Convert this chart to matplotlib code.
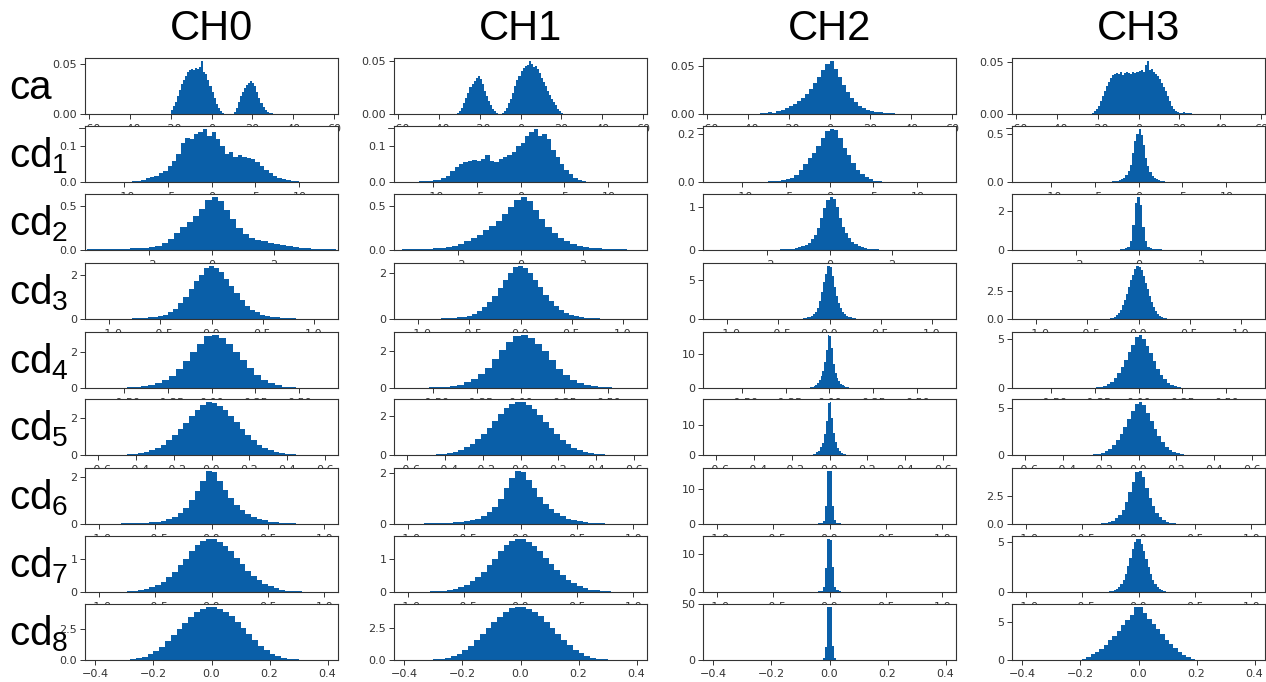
import numpy as np
import matplotlib
matplotlib.use("Agg")
import matplotlib.pyplot as plt

# ---------------- data (bin densities) ----------------
channels = ["CH0", "CH1", "CH2", "CH3"]
levels = ["ca", "cd1", "cd2", "cd3", "cd4", "cd5", "cd6", "cd7", "cd8"]
row_labels = ["ca", r"$\mathrm{cd}_{1}$", r"$\mathrm{cd}_{2}$", r"$\mathrm{cd}_{3}$",
              r"$\mathrm{cd}_{4}$", r"$\mathrm{cd}_{5}$", r"$\mathrm{cd}_{6}$",
              r"$\mathrm{cd}_{7}$", r"$\mathrm{cd}_{8}$"]

# x limits and x ticks per level (shared by the four channels)
row_xlim = [62, 14.4, 4.05, 1.24, 0.72, 0.67, 1.12, 1.12, 0.436]
row_xticks = [
    [-60, -40, -20, 0, 20, 40, 60],
    [-10, -5, 0, 5, 10],
    [-2, 0, 2],
    [-1.0, -0.5, 0.0, 0.5, 1.0],
    [-0.50, -0.25, 0.00, 0.25, 0.50],
    [-0.6, -0.4, -0.2, 0.0, 0.2, 0.4, 0.6],
    [-1.0, -0.5, 0.0, 0.5, 1.0],
    [-1.0, -0.5, 0.0, 0.5, 1.0],
    [-0.4, -0.2, 0.0, 0.2, 0.4],
]
yticks = [
    [[0, 0.05], [0, 0.05], [0, 0.05], [0, 0.05]],
    [[0, 0.1], [0, 0.1], [0, 0.2], [0, 0.5]],
    [[0, 0.5], [0, 0.5], [0, 1], [0, 2]],
    [[0, 2], [0, 2], [0, 5], [0, 2.5]],
    [[0, 2], [0, 2], [0, 10], [0, 5]],
    [[0, 2], [0, 2], [0, 10], [0, 5]],
    [[0, 2], [0, 2], [0, 10], [0, 2.5]],
    [[0, 1], [0, 1], [0, 10], [0, 5]],
    [[0, 2.5], [0, 2.5], [0, 50], [0, 5]],
]

# ---- ca ----
ca_ch0_rng = (-20, 31)
ca_ch0 = [0.004, 0.008, 0.012, 0.018, 0.024, 0.030, 0.034, 0.038, 0.042, 0.044,
          0.045, 0.044, 0.046, 0.045, 0.047, 0.053, 0.042, 0.040, 0.034, 0.028,
          0.022, 0.016, 0.010, 0.006, 0.003, 0.001, 0.0, 0.0, 0.0, 0.0,
          0.0, 0.002, 0.006, 0.012, 0.018, 0.022, 0.026, 0.029, 0.031, 0.033,
          0.031, 0.028, 0.022, 0.016, 0.011, 0.007, 0.004, 0.002, 0.001, 0.0005, 0.0]
ca_ch1_rng = (-31, 21)
ca_ch1 = [0.001, 0.003, 0.006, 0.010, 0.015, 0.020, 0.025, 0.028, 0.031, 0.034,
          0.036, 0.033, 0.028, 0.022, 0.017, 0.012, 0.008, 0.005, 0.003, 0.001,
          0.0, 0.0, 0.001, 0.003, 0.006, 0.010, 0.014, 0.020, 0.026, 0.032,
          0.036, 0.040, 0.043, 0.045, 0.046, 0.050, 0.047, 0.044, 0.045, 0.042,
          0.038, 0.034, 0.030, 0.026, 0.022, 0.018, 0.014, 0.011, 0.008, 0.005,
          0.003, 0.001]
ca_ch2_rng = (-34, 36)
ca_ch2 = [0.001, 0.001, 0.002, 0.001, 0.003, 0.004, 0.006, 0.008, 0.010, 0.013,
          0.017, 0.021, 0.026, 0.032, 0.038, 0.045, 0.052, 0.055, 0.046, 0.038,
          0.030, 0.023, 0.017, 0.012, 0.008, 0.006, 0.004, 0.003, 0.002, 0.002,
          0.001, 0.001, 0.001, 0.0005, 0.0005]
ca_ch3_rng = (-23, 27)
ca_ch3 = [0.001, 0.003, 0.005, 0.008, 0.012, 0.017, 0.022, 0.027, 0.031, 0.034,
          0.037, 0.038, 0.039, 0.038, 0.040, 0.037, 0.039, 0.040, 0.039, 0.038,
          0.040, 0.039, 0.040, 0.041, 0.042, 0.040, 0.047, 0.051, 0.042, 0.043,
          0.040, 0.038, 0.036, 0.033, 0.030, 0.026, 0.022, 0.017, 0.012, 0.008,
          0.005, 0.003, 0.002, 0.001, 0.001, 0.002, 0.001, 0.001, 0.0005, 0.0]

# ---- cd1 ----
cd1_ch0_rng = (-9, 11)
cd1_ch0 = [0.002, 0.004, 0.006, 0.01, 0.014, 0.018, 0.024, 0.032, 0.045, 0.06,
           0.08, 0.11, 0.125, 0.12, 0.135, 0.14, 0.15, 0.13, 0.14, 0.12,
           0.10, 0.08, 0.085, 0.07, 0.075, 0.07, 0.068, 0.065, 0.055, 0.045,
           0.035, 0.025, 0.018, 0.012, 0.008, 0.005, 0.003, 0.002, 0.001, 0.001]
cd1_ch1_rng = (-12, 8)
cd1_ch1 = [0.001, 0.002, 0.003, 0.004, 0.005, 0.007, 0.01, 0.018, 0.03, 0.042,
           0.05, 0.055, 0.06, 0.062, 0.06, 0.065, 0.075, 0.06, 0.055, 0.065,
           0.07, 0.075, 0.085, 0.1, 0.11, 0.13, 0.14, 0.15, 0.13, 0.135,
           0.12, 0.09, 0.07, 0.05, 0.035, 0.022, 0.012, 0.006, 0.003, 0.001]
cd1_ch2_rng = (-8, 6)
cd1_ch2 = [0.002, 0.002, 0.003, 0.004, 0.005, 0.008, 0.012, 0.018, 0.03, 0.05,
           0.075, 0.1, 0.12, 0.15, 0.18, 0.21, 0.22, 0.215, 0.18, 0.14,
           0.11, 0.08, 0.05, 0.032, 0.02, 0.012, 0.006, 0.003]
cd1_ch3_rng = (-3.5, 3.5)
cd1_ch3 = [0.003, 0.005, 0.007, 0.01, 0.014, 0.02, 0.03, 0.045, 0.07, 0.11,
           0.18, 0.3, 0.42, 0.5, 0.55, 0.48, 0.38, 0.25, 0.16, 0.1,
           0.065, 0.04, 0.028, 0.018, 0.012, 0.008, 0.005, 0.003]

# ---- cd2 ----
cd2_ch0_rng = (-4, 4)
cd2_ch0 = [0.01, 0.01, 0.012, 0.012, 0.014, 0.015, 0.016, 0.018, 0.02, 0.025,
           0.03, 0.05, 0.08, 0.13, 0.2, 0.26, 0.32, 0.39, 0.47, 0.57,
           0.61, 0.56, 0.46, 0.35, 0.25, 0.18, 0.14, 0.12, 0.1, 0.08,
           0.065, 0.055, 0.045, 0.035, 0.028, 0.022, 0.017, 0.013, 0.01, 0.008]
cd2_ch1_rng = (-4, 4)
cd2_ch1 = [0.005, 0.006, 0.008, 0.01, 0.012, 0.015, 0.02, 0.025, 0.035, 0.05,
           0.07, 0.1, 0.13, 0.17, 0.22, 0.27, 0.33, 0.4, 0.48, 0.56,
           0.6, 0.55, 0.45, 0.35, 0.26, 0.19, 0.14, 0.1, 0.07, 0.05,
           0.035, 0.025, 0.018, 0.013, 0.01, 0.008, 0.006, 0.005, 0.004, 0.003]
cd2_ch2_rng = (-2, 2)
cd2_ch2 = [0.005, 0.005, 0.007, 0.01, 0.012, 0.015, 0.02, 0.028, 0.035, 0.045,
           0.06, 0.085, 0.12, 0.17, 0.25, 0.36, 0.52, 0.75, 0.98, 1.18,
           1.25, 1.2, 1.0, 0.76, 0.55, 0.4, 0.28, 0.19, 0.13, 0.09,
           0.065, 0.045, 0.032, 0.024, 0.018, 0.013, 0.01, 0.007, 0.005, 0.004]
cd2_ch3_rng = (-1.0, 1.4)
cd2_ch3 = [0.01, 0.012, 0.015, 0.02, 0.025, 0.035, 0.05, 0.08, 0.15, 0.45,
           1.3, 2.4, 2.75, 2.3, 1.2, 0.45, 0.18, 0.09, 0.06, 0.045,
           0.035, 0.03, 0.025, 0.02, 0.016, 0.013, 0.01, 0.008, 0.006, 0.005]

# ---- cd3 ----
cd3_ch0_rng = (-0.925, 0.975)
cd3_ch0 = [0.01, 0.015, 0.02, 0.03, 0.04, 0.05, 0.07, 0.1, 0.14, 0.2,
           0.3, 0.45, 0.7, 1.0, 1.35, 1.7, 2.0, 2.3, 2.4, 2.3,
           2.1, 1.8, 1.5, 1.15, 0.85, 0.6, 0.42, 0.3, 0.2, 0.14,
           0.1, 0.07, 0.05, 0.035, 0.025, 0.018, 0.012, 0.008]
cd3_ch1_rng = (-0.925, 0.975)
cd3_ch1 = [0.01, 0.012, 0.018, 0.025, 0.035, 0.05, 0.07, 0.1, 0.15, 0.22,
           0.33, 0.5, 0.72, 1.0, 1.35, 1.7, 2.0, 2.25, 2.3, 2.2,
           2.0, 1.7, 1.38, 1.05, 0.78, 0.55, 0.38, 0.26, 0.18, 0.12,
           0.08, 0.055, 0.04, 0.03, 0.02, 0.015, 0.01, 0.007]
cd3_ch2_rng = (-0.3, 0.3)
cd3_ch2 = [0.03, 0.05, 0.08, 0.12, 0.2, 0.3, 0.45, 0.65, 0.95, 1.4,
           2.3, 3.5, 4.8, 5.8, 6.9, 6.7, 5.5, 4.2, 3.0, 2.1,
           1.4, 0.95, 0.65, 0.45, 0.3, 0.2, 0.12, 0.08, 0.05, 0.03]
cd3_ch3_rng = (-0.32, 0.32)
cd3_ch3 = [0.02, 0.04, 0.07, 0.12, 0.2, 0.32, 0.5, 0.8, 1.2, 1.7,
           2.2, 2.8, 3.4, 3.9, 4.4, 4.7, 4.6, 4.3, 3.8, 3.2,
           2.6, 2.0, 1.5, 1.05, 0.7, 0.45, 0.28, 0.17, 0.1, 0.06,
           0.035, 0.02]

# ---- cd4 ----
cd4_ch0_rng = (-0.6, 0.6)
cd4_ch0 = [0.01, 0.015, 0.025, 0.04, 0.06, 0.1, 0.16, 0.27, 0.45, 0.7,
           1.05, 1.5, 2.0, 2.5, 2.95, 3.0, 2.8, 2.5, 2.05, 1.55,
           1.1, 0.72, 0.45, 0.27, 0.15, 0.08, 0.045, 0.025, 0.015, 0.008]
cd4_ch1_rng = (-0.6, 0.6)
cd4_ch1 = [0.01, 0.018, 0.03, 0.045, 0.07, 0.11, 0.18, 0.3, 0.48, 0.75,
           1.1, 1.55, 2.05, 2.5, 2.85, 2.9, 2.7, 2.4, 2.0, 1.5,
           1.05, 0.7, 0.44, 0.26, 0.15, 0.085, 0.05, 0.028, 0.016, 0.01]
cd4_ch2_rng = (-0.12, 0.12)
cd4_ch2 = [0.1, 0.2, 0.35, 0.6, 1.0, 1.5, 2.2, 3.5, 5.0, 7.5,
           11.0, 15.5, 15.0, 11.5, 7.0, 4.5, 3.0, 2.0, 1.3, 0.85,
           0.5, 0.3, 0.18, 0.1]
cd4_ch3_rng = (-0.28, 0.28)
cd4_ch3 = [0.02, 0.04, 0.08, 0.14, 0.24, 0.4, 0.65, 1.0, 1.5, 2.1,
           2.8, 3.6, 4.4, 5.2, 5.4, 5.0, 4.3, 3.5, 2.7, 1.95,
           1.35, 0.9, 0.55, 0.33, 0.19, 0.1, 0.05, 0.025]

# ---- cd5 ----
cd5_ch0_rng = (-0.51, 0.51)
cd5_ch0 = [0.01, 0.02, 0.035, 0.06, 0.1, 0.16, 0.25, 0.38, 0.55, 0.78,
           1.05, 1.38, 1.72, 2.1, 2.42, 2.68, 2.85, 2.8, 2.62, 2.38,
           2.08, 1.75, 1.4, 1.08, 0.8, 0.56, 0.38, 0.25, 0.16, 0.1,
           0.06, 0.035, 0.02, 0.01]
cd5_ch1_rng = (-0.51, 0.51)
cd5_ch1 = [0.012, 0.022, 0.04, 0.065, 0.11, 0.17, 0.26, 0.4, 0.57, 0.8,
           1.08, 1.4, 1.75, 2.1, 2.4, 2.62, 2.75, 2.72, 2.58, 2.35,
           2.05, 1.72, 1.38, 1.06, 0.78, 0.55, 0.37, 0.24, 0.15, 0.095,
           0.058, 0.034, 0.02, 0.012]
cd5_ch2_rng = (-0.1, 0.1)
cd5_ch2 = [0.1, 0.25, 0.5, 0.9, 1.5, 2.6, 4.2, 7.0, 11.5, 17.5,
           18.0, 12.5, 7.5, 4.3, 2.5, 1.4, 0.8, 0.45, 0.22, 0.1]
cd5_ch3_rng = (-0.28, 0.28)
cd5_ch3 = [0.02, 0.04, 0.08, 0.15, 0.26, 0.42, 0.68, 1.05, 1.55, 2.2,
           2.95, 3.8, 4.7, 5.5, 5.7, 5.3, 4.5, 3.6, 2.75, 2.0,
           1.35, 0.88, 0.55, 0.33, 0.19, 0.1, 0.05, 0.025]

# ---- cd6 ----
cd6_ch0_rng = (-1.0, 0.95)
cd6_ch0 = [0.01, 0.012, 0.015, 0.018, 0.022, 0.027, 0.033, 0.042, 0.055, 0.075,
           0.1, 0.14, 0.2, 0.3, 0.45, 0.68, 1.0, 1.4, 1.8, 2.25,
           2.2, 1.8, 1.45, 1.1, 0.82, 0.6, 0.43, 0.3, 0.21, 0.15,
           0.1, 0.07, 0.05, 0.036, 0.026, 0.019, 0.014, 0.01, 0.008]
cd6_ch1_rng = (-1.0, 0.95)
cd6_ch1 = [0.012, 0.015, 0.018, 0.022, 0.027, 0.033, 0.04, 0.05, 0.065, 0.085,
           0.11, 0.15, 0.21, 0.31, 0.46, 0.68, 1.0, 1.4, 1.8, 2.1,
           2.05, 1.75, 1.4, 1.08, 0.8, 0.58, 0.42, 0.3, 0.21, 0.15,
           0.1, 0.07, 0.05, 0.036, 0.026, 0.019, 0.014, 0.01, 0.008]
cd6_ch2_rng = (-0.12, 0.12)
cd6_ch2 = [0.08, 0.15, 0.35, 0.9, 5.0, 15.0, 15.2, 5.2, 1.0, 0.4, 0.18, 0.08]
cd6_ch3_rng = (-0.39, 0.39)
cd6_ch3 = [0.02, 0.04, 0.07, 0.11, 0.18, 0.3, 0.5, 0.8, 1.25, 1.9,
           2.8, 3.7, 4.6, 4.7, 4.1, 3.2, 2.3, 1.55, 1.0, 0.62,
           0.38, 0.22, 0.13, 0.07, 0.04, 0.02]

# ---- cd7 ----
cd7_ch0_rng = (-0.85, 0.95)
cd7_ch0 = [0.01, 0.015, 0.025, 0.04, 0.06, 0.1, 0.15, 0.22, 0.32, 0.45,
           0.62, 0.82, 1.03, 1.25, 1.44, 1.57, 1.64, 1.63, 1.55, 1.42,
           1.25, 1.05, 0.85, 0.66, 0.5, 0.36, 0.25, 0.17, 0.11, 0.07,
           0.045, 0.028, 0.018, 0.011, 0.007, 0.004]
cd7_ch1_rng = (-0.85, 0.95)
cd7_ch1 = [0.012, 0.018, 0.028, 0.043, 0.065, 0.1, 0.15, 0.22, 0.32, 0.45,
           0.61, 0.8, 1.0, 1.22, 1.4, 1.53, 1.6, 1.58, 1.5, 1.38,
           1.22, 1.03, 0.84, 0.66, 0.5, 0.37, 0.26, 0.18, 0.12, 0.075,
           0.048, 0.03, 0.019, 0.012, 0.008, 0.005]
cd7_ch2_rng = (-0.12, 0.12)
cd7_ch2 = [0.08, 0.15, 0.35, 1.2, 6.2, 13.9, 13.5, 6.5, 1.3, 0.4, 0.18, 0.08]
cd7_ch3_rng = (-0.28, 0.28)
cd7_ch3 = [0.02, 0.05, 0.1, 0.18, 0.3, 0.5, 0.8, 1.2, 1.8, 2.6,
           3.4, 4.3, 5.0, 5.3, 5.25, 4.8, 4.1, 3.3, 2.5, 1.8,
           1.2, 0.75, 0.45, 0.27, 0.15, 0.08, 0.04, 0.02]

# ---- cd8 ----
cd8_ch0_rng = (-0.34, 0.34)
cd8_ch0 = [0.01, 0.02, 0.04, 0.08, 0.15, 0.28, 0.47, 0.75, 1.1, 1.55,
           2.05, 2.55, 3.05, 3.5, 3.9, 4.2, 4.35, 4.35, 4.2, 3.95,
           3.55, 3.1, 2.6, 2.1, 1.6, 1.15, 0.78, 0.5, 0.3, 0.17,
           0.09, 0.045, 0.02, 0.01]
cd8_ch1_rng = (-0.34, 0.34)
cd8_ch1 = [0.012, 0.025, 0.05, 0.09, 0.17, 0.3, 0.5, 0.78, 1.12, 1.55,
           2.02, 2.5, 2.98, 3.42, 3.8, 4.08, 4.22, 4.2, 4.05, 3.8,
           3.45, 3.0, 2.52, 2.05, 1.58, 1.15, 0.8, 0.52, 0.32, 0.18,
           0.1, 0.05, 0.025, 0.012]
cd8_ch2_rng = (-0.032, 0.032)
cd8_ch2 = [0.2, 1.5, 12.0, 48.0, 48.0, 13.0, 1.5, 0.2]
cd8_ch3_rng = (-0.21, 0.21)
cd8_ch3 = [0.05, 0.15, 0.4, 0.75, 1.1, 1.5, 2.0, 2.6, 3.2, 3.9,
           4.6, 5.3, 6.0, 7.0, 7.1, 6.2, 5.5, 4.8, 4.1, 3.4,
           2.7, 2.1, 1.55, 1.05, 0.65, 0.35, 0.15, 0.05]

hist_vals = [
    [ca_ch0, ca_ch1, ca_ch2, ca_ch3],
    [cd1_ch0, cd1_ch1, cd1_ch2, cd1_ch3],
    [cd2_ch0, cd2_ch1, cd2_ch2, cd2_ch3],
    [cd3_ch0, cd3_ch1, cd3_ch2, cd3_ch3],
    [cd4_ch0, cd4_ch1, cd4_ch2, cd4_ch3],
    [cd5_ch0, cd5_ch1, cd5_ch2, cd5_ch3],
    [cd6_ch0, cd6_ch1, cd6_ch2, cd6_ch3],
    [cd7_ch0, cd7_ch1, cd7_ch2, cd7_ch3],
    [cd8_ch0, cd8_ch1, cd8_ch2, cd8_ch3],
]
hist_rng = [
    [ca_ch0_rng, ca_ch1_rng, ca_ch2_rng, ca_ch3_rng],
    [cd1_ch0_rng, cd1_ch1_rng, cd1_ch2_rng, cd1_ch3_rng],
    [cd2_ch0_rng, cd2_ch1_rng, cd2_ch2_rng, cd2_ch3_rng],
    [cd3_ch0_rng, cd3_ch1_rng, cd3_ch2_rng, cd3_ch3_rng],
    [cd4_ch0_rng, cd4_ch1_rng, cd4_ch2_rng, cd4_ch3_rng],
    [cd5_ch0_rng, cd5_ch1_rng, cd5_ch2_rng, cd5_ch3_rng],
    [cd6_ch0_rng, cd6_ch1_rng, cd6_ch2_rng, cd6_ch3_rng],
    [cd7_ch0_rng, cd7_ch1_rng, cd7_ch2_rng, cd7_ch3_rng],
    [cd8_ch0_rng, cd8_ch1_rng, cd8_ch2_rng, cd8_ch3_rng],
]

# ---------------- layout & style ----------------
W, H = 1266, 682
BLUE = "#0a5fa8"
col_left = [85, 394, 703, 1012]
col_width = 253
row_top = [58, 126, 194, 263, 332, 399, 468, 536, 604]
row_height = 56

plt.rcParams["mathtext.fontset"] = "custom"
plt.rcParams["mathtext.rm"] = "Liberation Sans"
plt.rcParams["mathtext.it"] = "Liberation Sans:italic"

fig = plt.figure(figsize=(W / 100, H / 100), dpi=100)
fig.patch.set_facecolor("white")

for r in range(len(levels)):
    for c in range(len(channels)):
        x0 = col_left[c] / W
        y0 = 1 - (row_top[r] + row_height) / H
        ax = fig.add_axes([x0, y0, col_width / W, row_height / H])
        vals = np.asarray(hist_vals[r][c], dtype=float)
        lo, hi = hist_rng[r][c]
        edges = np.linspace(lo, hi, len(vals) + 1)
        ax.stairs(vals, edges, fill=True, color=BLUE, linewidth=0)
        ax.set_xlim(-row_xlim[r], row_xlim[r])
        ax.set_ylim(0, vals.max() * 1.05)
        ax.set_xticks(row_xticks[r])
        ax.set_yticks(yticks[r][c])
        ax.tick_params(labelsize=8, colors="#333333", length=3.5, width=0.7)
        ax.tick_params(axis="x", pad=4 if r < len(levels) - 1 else 3)
        ax.tick_params(axis="y", pad=2)
        for s in ax.spines.values():
            s.set_color("#333333")
            s.set_linewidth(0.8)

# column titles
for c, name in enumerate(channels):
    cx = (col_left[c] + col_width / 2) / W
    fig.text(cx, 1 - 29 / H, name, ha="center", va="center",
             fontsize=30, family="Liberation Sans", color="black")

# row labels
for r, lab in enumerate(row_labels):
    base = row_top[r] + row_height / 2 + 13
    fig.text(9 / W, 1 - base / H, lab, ha="left", va="baseline",
             fontsize=29, family="Liberation Sans", color="black")

fig.savefig("out.png", dpi=100, facecolor="white")
